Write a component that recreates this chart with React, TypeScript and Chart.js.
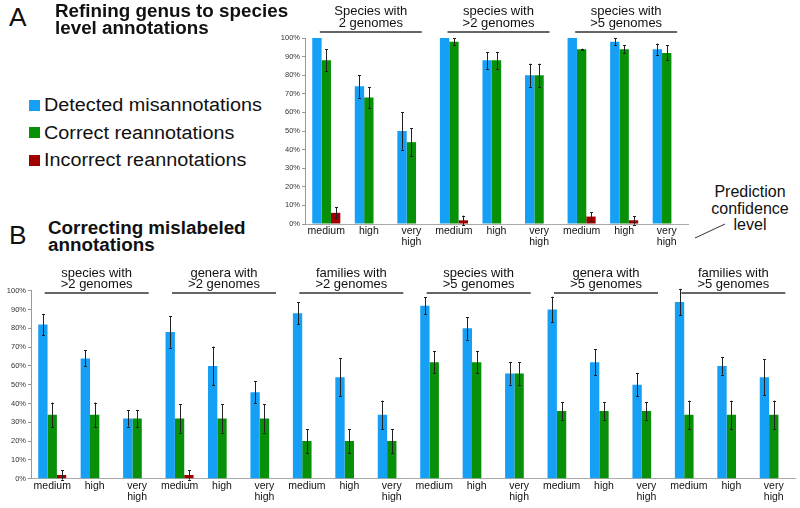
import React, { useEffect, useRef } from "react";
import { Chart, registerables } from "chart.js";

Chart.register(...registerables);

const FONT = "'Liberation Sans', Arial, sans-serif";
const BLUE = "#15a0f5";
const GREEN = "#089008";
const RED = "#a00000";

// ---- Panel A data ----
const topCategories: (string | string[])[] = [
  "medium", "high", ["very", "high"],
  "medium", "high", ["very", "high"],
  "medium", "high", ["very", "high"],
];
const topGroups: string[][] = [
  ["Species with", "2 genomes"],
  ["species with", ">2 genomes"],
  ["species with", ">5 genomes"],
];
const topDetected = [100, 74, 50, 100, 88, 80, 100, 98, 94];
const topDetectedErr = [0, 6, 10, 0, 4.5, 6.2, 0, 2, 3];
const topCorrect = [88, 68, 44, 98, 88, 80, 94, 94, 92];
const topCorrectErr = [6, 5.7, 7.5, 2, 4.5, 6.2, 0.3, 2, 4];
const topIncorrect = [6, null, null, 2, null, null, 4, 2, null];
const topIncorrectErr = [3, 0, 0, 2.5, 0, 0, 2.3, 2.3, 0];

// ---- Panel B data ----
const bottomCategories: (string | string[])[] = Array.from({ length: 6 }).flatMap(() => [
  "medium", "high", ["very", "high"],
]);
const bottomGroups: string[][] = [
  ["species with", ">2 genomes"],
  ["genera with", ">2 genomes"],
  ["families with", ">2 genomes"],
  ["species with", ">5 genomes"],
  ["genera with", ">5 genomes"],
  ["families with", ">5 genomes"],
];
const bottomDetected = [82, 64, 32, 78, 60, 46, 88, 54, 34, 92, 80, 56, 90, 62, 50, 94, 60, 54];
const bottomDetectedErr = [5.7, 4.3, 4.3, 8.3, 10.3, 5.8, 5.8, 10, 7.5, 4.5, 6, 6, 6.8, 6.8, 6, 7, 4.6, 9.5];
const bottomCorrect = [34, 34, 32, 32, 32, 32, 20, 20, 20, 62, 62, 56, 36, 36, 36, 34, 34, 34];
const bottomCorrectErr = [6.5, 6.5, 4.3, 7.5, 7.5, 7.5, 6.3, 6.3, 6.3, 6, 6, 6, 4.6, 4.6, 4.6, 7.5, 7.5, 7.5];
const bottomIncorrect = [2, null, null, 2, null, null, null, null, null, null, null, null, null, null, null, null, null, null];
const bottomIncorrectErr = [2.5, 0, 0, 2.5, 0, 0, 0, 0, 0, 0, 0, 0, 0, 0, 0, 0, 0, 0];

const yTicks = [0, 10, 20, 30, 40, 50, 60, 70, 80, 90, 100];

const errorBarPlugin = {
  id: "errorBars",
  afterDatasetsDraw(chart: any, _args: any, opts: any) {
    const errs: number[][] = opts.errors || [];
    const ctx = chart.ctx;
    const y = chart.scales.y;
    ctx.save();
    ctx.strokeStyle = "#222";
    ctx.lineWidth = 1;
    chart.data.datasets.forEach((ds: any, di: number) => {
      const meta = chart.getDatasetMeta(di);
      const e = errs[di] || [];
      meta.data.forEach((bar: any, i: number) => {
        const v = ds.data[i];
        const err = e[i];
        if (v == null || !err) return;
        const x = Math.round(bar.x) + 0.5;
        const top = y.getPixelForValue(v + err);
        const bot = y.getPixelForValue(v - err);
        ctx.beginPath();
        ctx.moveTo(x, top);
        ctx.lineTo(x, bot);
        ctx.moveTo(x - 1.5, Math.round(top) + 0.5);
        ctx.lineTo(x + 1.5, Math.round(top) + 0.5);
        ctx.moveTo(x - 1.5, Math.round(bot) + 0.5);
        ctx.lineTo(x + 1.5, Math.round(bot) + 0.5);
        ctx.stroke();
      });
    });
    ctx.restore();
  },
};

const groupTitlePlugin = {
  id: "groupTitles",
  afterDraw(chart: any, _args: any, opts: any) {
    const groups: string[][] = opts.groups || [];
    const x = chart.scales.x;
    const ctx = chart.ctx;
    ctx.save();
    ctx.font = `${opts.fontSize}px ${FONT}`;
    ctx.fillStyle = "#111";
    ctx.textAlign = "center";
    ctx.textBaseline = "alphabetic";
    groups.forEach((g, gi) => {
      const c = (x.getPixelForValue(gi * 3) + x.getPixelForValue(gi * 3 + 2)) / 2 + opts.shift;
      ctx.fillText(g[0], c, opts.line1);
      ctx.fillText(g[1], c, opts.line2);
      ctx.beginPath();
      ctx.strokeStyle = "#333";
      ctx.lineWidth = 1.3;
      ctx.moveTo(c - opts.half, opts.rule);
      ctx.lineTo(c + opts.half, opts.rule);
      ctx.stroke();
    });
    ctx.restore();
  },
};

function makeConfig(
  cats: (string | string[])[],
  d: (number | null)[],
  c: (number | null)[],
  r: (number | null)[],
  errs: number[][],
  groups: string[][],
  yWidth: number,
  xHeight: number,
  pad: { top: number; right: number },
  title: any,
  tickFont: number,
  yFont: number
): any {
  return {
    type: "bar",
    data: {
      labels: cats,
      datasets: [
        { label: "Detected misannotations", data: d, backgroundColor: BLUE },
        { label: "Correct reannotations", data: c, backgroundColor: GREEN },
        { label: "Incorrect reannotations", data: r, backgroundColor: RED },
      ],
    },
    options: {
      responsive: false,
      animation: false,
      devicePixelRatio: 1,
      layout: { padding: { top: pad.top, right: pad.right, left: 0, bottom: 0 } },
      datasets: { bar: { categoryPercentage: 0.66, barPercentage: 1 } },
      plugins: {
        legend: { display: false },
        tooltip: { enabled: false },
        errorBars: { errors: errs },
        groupTitles: { groups, ...title },
      },
      scales: {
        x: {
          grid: { display: false, drawTicks: false, tickLength: 0 },
          border: { display: true, color: "#aaa", width: 1 },
          ticks: {
            font: { family: FONT, size: tickFont, lineHeight: 1.02 },
            color: "#111",
            padding: 2,
            maxRotation: 0,
            autoSkip: false,
          },
          afterFit(s: any) {
            s.height = xHeight;
          },
        },
        y: {
          min: 0,
          max: 100,
          afterBuildTicks(s: any) {
            s.ticks = yTicks.map((v) => ({ value: v }));
          },
          grid: { display: true, drawOnChartArea: false, tickLength: 3, color: "#999" },
          border: { display: true, color: "#999", width: 1 },
          ticks: {
            font: { family: FONT, size: yFont },
            color: "#333",
            padding: 2,
            callback: (v: any) => `${v}%`,
          },
          afterFit(s: any) {
            s.width = yWidth;
          },
        },
      },
    },
    plugins: [errorBarPlugin, groupTitlePlugin],
  };
}

function ChartCanvas({ config, left, top, width, height }: any) {
  const ref = useRef<HTMLCanvasElement>(null);
  useEffect(() => {
    if (!ref.current) return;
    const ch = new Chart(ref.current, config);
    return () => ch.destroy();
  }, []);
  return (
    <canvas
      ref={ref}
      width={width}
      height={height}
      style={{ position: "absolute", left, top, width, height }}
    />
  );
}

export default function App() {
  const topConfig = makeConfig(
    topCategories, topDetected, topCorrect, topIncorrect,
    [topDetectedErr, topCorrectErr, topIncorrectErr], topGroups,
    35, 31, { top: 38, right: 12 },
    { fontSize: 13, line1: 15, line2: 27, rule: 32, half: 51, shift: 2 },
    10.5, 7.5
  );
  const bottomConfig = makeConfig(
    bottomCategories, bottomDetected, bottomCorrect, bottomIncorrect,
    [bottomDetectedErr, bottomCorrectErr, bottomIncorrectErr], bottomGroups,
    31, 29.3, { top: 35.7, right: 5 },
    { fontSize: 13, line1: 22, line2: 33, rule: 38, half: 52, shift: 2 },
    10.5, 7.5
  );
  const legend = [
    { c: BLUE, t: "Detected misannotations", y: 96 },
    { c: GREEN, t: "Correct reannotations", y: 123.5 },
    { c: RED, t: "Incorrect reannotations", y: 151 },
  ];
  return (
    <div style={{ position: "fixed", left: 0, top: 0, width: 800, height: 508, background: "#fff", fontFamily: FONT, color: "#111", overflow: "hidden" }}>
      <ChartCanvas config={topConfig} left={270} top={0} width={430} height={255} />
      <ChartCanvas config={bottomConfig} left={0} top={255} width={800} height={253} />
      <div style={{ position: "absolute", left: 9, top: 3, fontSize: 25, lineHeight: "28px", transform: "scaleX(1.05)", transformOrigin: "left top" }}>A</div>
      <div style={{ position: "absolute", left: 55, top: 3, fontSize: 17.5, fontWeight: "bold", lineHeight: "17.4px", whiteSpace: "nowrap", transform: "scaleX(1.075)", transformOrigin: "left top" }}>
        Refining genus to species<br />level annotations
      </div>
      {legend.map((l) => (
        <div key={l.t} style={{ position: "absolute", left: 29, top: l.y, display: "flex", alignItems: "center", height: 18 }}>
          <div style={{ width: 11, height: 11, background: l.c, marginRight: 4 }} />
          <span style={{ fontSize: 18, lineHeight: "18px", whiteSpace: "nowrap", display: "inline-block", transform: "scaleX(1.1)", transformOrigin: "left center" }}>{l.t}</span>
        </div>
      ))}
      <div style={{ position: "absolute", left: 9, top: 221, fontSize: 25, lineHeight: "28px", transform: "scaleX(1.05)", transformOrigin: "left top" }}>B</div>
      <div style={{ position: "absolute", left: 48, top: 220, fontSize: 17.5, fontWeight: "bold", lineHeight: "17.4px", whiteSpace: "nowrap", transform: "scaleX(1.075)", transformOrigin: "left top" }}>
        Correcting mislabeled<br />annotations
      </div>
      <div style={{ position: "absolute", left: 700, top: 184, width: 100, textAlign: "center", fontSize: 16, lineHeight: "16.5px" }}>
        Prediction<br />confidence<br />level
      </div>
      <svg style={{ position: "absolute", left: 0, top: 0 }} width={800} height={508}>
        <line x1={695} y1={238} x2={725} y2={224} stroke="#333" strokeWidth={1} />
      </svg>
    </div>
  );
}
